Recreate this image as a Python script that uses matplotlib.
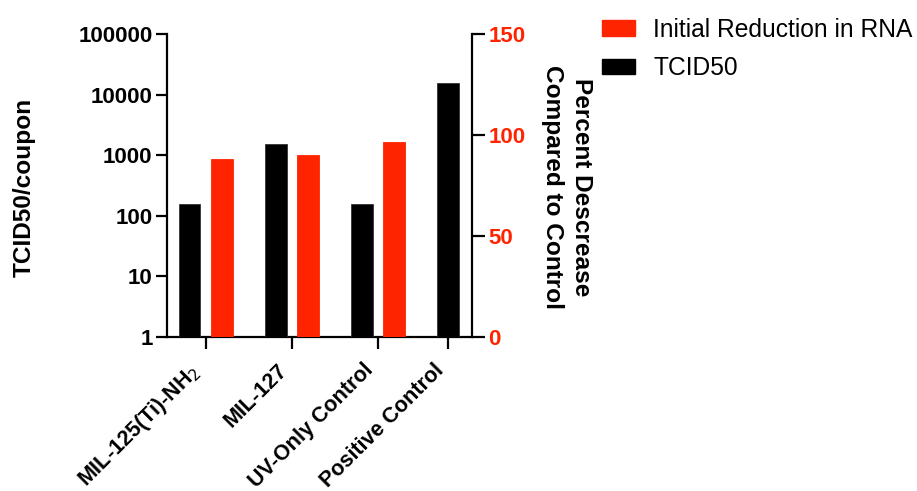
import numpy as np
import matplotlib
matplotlib.use("Agg")
import matplotlib.pyplot as plt
import matplotlib.transforms as mtransforms
from matplotlib.patches import Patch

# data
groups = ["MIL-125(Ti)-NH$_2$", "MIL-127", "UV-Only Control", "Positive Control"]
tcid50 = [156, 1540, 156, 15500]
rna_decrease = [88.2, 89.9, 96.3, np.nan]
left_ticks = [1, 10, 100, 1000, 10000, 100000]
right_ticks = [0, 50, 100, 150]

RED = "#FF2400"
plt.rcParams["font.family"] = ["Liberation Sans", "DejaVu Sans"]

W, H = 917, 491
fig = plt.figure(figsize=(W / 100, H / 100), dpi=100)
ax = fig.add_axes([166.5 / W, 1 - 336.7 / H, 305 / W, 302.7 / H])
ax2 = ax.twinx()

x = np.arange(len(groups))
off = 0.374
width = 0.251

ax.bar(x, tcid50, width, color="black", edgecolor="#333333", linewidth=0.6, zorder=3)
ax2.bar(x + off, rna_decrease, width, color=RED, edgecolor=RED, linewidth=0.6, zorder=3)

# tick sits between the pair, or on the lone bar
tick_pos = [xi + off / 2 if not np.isnan(r) else xi for xi, r in zip(x, rna_decrease)]

ax.set_xlim(-0.268, 3.27)
ax.set_yscale("log")
ax.set_ylim(1, 100000)
ax.set_yticks(left_ticks)
ax.set_yticklabels([str(t) for t in left_ticks], fontsize=16, fontweight="bold")
ax.minorticks_off()
ax.set_xticks(tick_pos)
ax.set_xticklabels(groups, rotation=45, ha="right", fontsize=15.5, fontweight="bold")
shift = mtransforms.ScaledTranslation(4 / 72, 0, fig.dpi_scale_trans)
for lbl in ax.get_xticklabels():
    lbl.set_transform(lbl.get_transform() + shift)

ax2.set_ylim(0, 150)
ax2.set_yticks(right_ticks)
ax2.set_yticklabels([str(t) for t in right_ticks], fontsize=16, fontweight="bold", color=RED)

for a in (ax, ax2):
    a.spines["top"].set_visible(False)
    for s in a.spines.values():
        s.set_linewidth(1.6)
ax.spines["right"].set_visible(False)
ax2.spines["left"].set_visible(False)
ax2.spines["bottom"].set_visible(False)

ax.tick_params(axis="y", length=8, width=1.6, pad=2)
ax.tick_params(axis="x", length=8.5, width=1.6, pad=8)
ax2.tick_params(axis="y", length=9, width=1.6, pad=3)

fig.text(24 / W, 1 - 187 / H, "TCID50/coupon", rotation=90, ha="center", va="center",
         fontsize=17.6, fontweight="bold")
fig.text(567 / W, 1 - 187 / H, "Percent Descrease\nCompared to Control", rotation=270,
         ha="center", va="center", fontsize=17.6, fontweight="bold", linespacing=1.3)

handles = [Patch(color=RED, label="Initial Reduction in RNA"),
           Patch(color="black", label="TCID50")]
fig.legend(handles=handles, loc="upper left", bbox_to_anchor=(602 / W, 1 - 18 / H),
           frameon=False, borderpad=0, borderaxespad=0, handlelength=1.35,
           handleheight=0.61, handletextpad=0.73, labelspacing=0.58, fontsize=17.7)

fig.savefig("out.png", dpi=100)
